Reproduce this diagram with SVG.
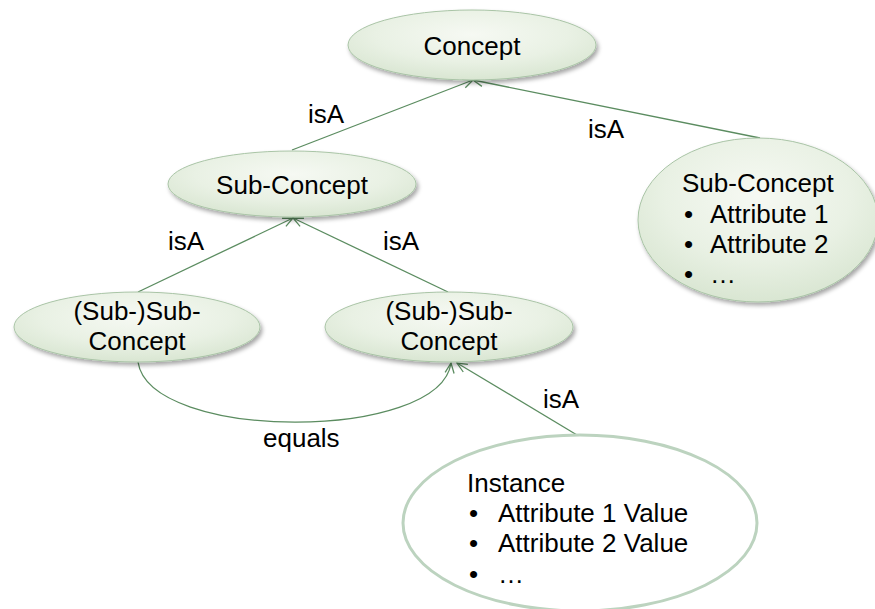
<svg xmlns="http://www.w3.org/2000/svg" width="875" height="609" viewBox="0 0 875 609">
  <defs>
    <radialGradient id="nodeFill" cx="50%" cy="35%" r="65%">
      <stop offset="0" stop-color="#f6f9f3"/>
      <stop offset="0.6" stop-color="#e9f1e4"/>
      <stop offset="1" stop-color="#d9e6d2"/>
    </radialGradient>
    <filter id="shadow" x="-10%" y="-20%" width="125%" height="150%">
      <feDropShadow dx="2" dy="3" stdDeviation="2.2" flood-color="#000" flood-opacity="0.35"/>
    </filter>
    <marker id="openArrow" viewBox="0 0 12 12" refX="11" refY="6" markerWidth="12" markerHeight="12" markerUnits="userSpaceOnUse" orient="auto">
      <path d="M1,1.5 L11,6 L1,10.5" fill="none" stroke="#5b8c60" stroke-width="1.3"/>
    </marker>
  </defs>
  <style>
    .node { fill: url(#nodeFill); stroke: #a9c4a6; stroke-width: 1; filter: url(#shadow); }
    .inst { fill: #ffffff; stroke: #bcd3bf; stroke-width: 3; }
    .edge { fill: none; stroke: #5b8c60; stroke-width: 1.3; marker-end: url(#openArrow); }
    text { font-family: "Liberation Sans", Arial, sans-serif; font-size: 26px; fill: #000; }
    .c { text-anchor: middle; }
  </style>

  <rect width="875" height="609" fill="#ffffff"/>

  <!-- connectors -->
  <g id="connectors">
    <line class="edge" x1="292" y1="150" x2="473" y2="80"/>
    <line class="edge" x1="760" y1="138" x2="473" y2="80"/>
    <line class="edge" x1="138" y1="292" x2="293" y2="218"/>
    <line class="edge" x1="448" y1="292" x2="293" y2="218"/>
    <path class="edge" d="M138,362 C150,442 440,442 451,363"/>
    <line class="edge" x1="577" y1="435" x2="457" y2="363"/>
    <text x="308" y="123">isA</text>
    <text x="588" y="138">isA</text>
    <text x="168" y="250">isA</text>
    <text x="383" y="250">isA</text>
    <text x="263" y="447">equals</text>
    <text x="543" y="408">isA</text>
  </g>

  <g id="concept">
    <ellipse class="node" cx="472" cy="45" rx="124" ry="35"/>
    <text class="c" x="472" y="55">Concept</text>
  </g>

  <g id="sub-concept">
    <ellipse class="node" cx="292" cy="184" rx="124" ry="33"/>
    <text class="c" x="292" y="194">Sub-Concept</text>
  </g>

  <g id="sub-concept-attrs">
    <ellipse class="node" cx="758" cy="220" rx="120" ry="82"/>
    <text x="682" y="192">Sub-Concept</text>
    <text x="684" y="223">•</text>
    <text x="710" y="223">Attribute 1</text>
    <text x="684" y="253">•</text>
    <text x="710" y="253">Attribute 2</text>
    <text x="684" y="283">•</text>
    <text x="710" y="283">…</text>
  </g>

  <g id="subsub-left">
    <ellipse class="node" cx="137" cy="327" rx="123" ry="35"/>
    <text class="c" x="137" y="320">(Sub-)Sub-</text>
    <text class="c" x="137" y="350">Concept</text>
  </g>

  <g id="subsub-right">
    <ellipse class="node" cx="449" cy="327" rx="124" ry="35"/>
    <text class="c" x="449" y="320">(Sub-)Sub-</text>
    <text class="c" x="449" y="350">Concept</text>
  </g>

  <g id="instance">
    <ellipse class="inst" cx="580" cy="523" rx="177" ry="88"/>
    <text x="467" y="492">Instance</text>
    <text x="469" y="522">•</text>
    <text x="498" y="522">Attribute 1 Value</text>
    <text x="469" y="552">•</text>
    <text x="498" y="552">Attribute 2 Value</text>
    <text x="469" y="583">•</text>
    <text x="498" y="583">…</text>
  </g>
</svg>
